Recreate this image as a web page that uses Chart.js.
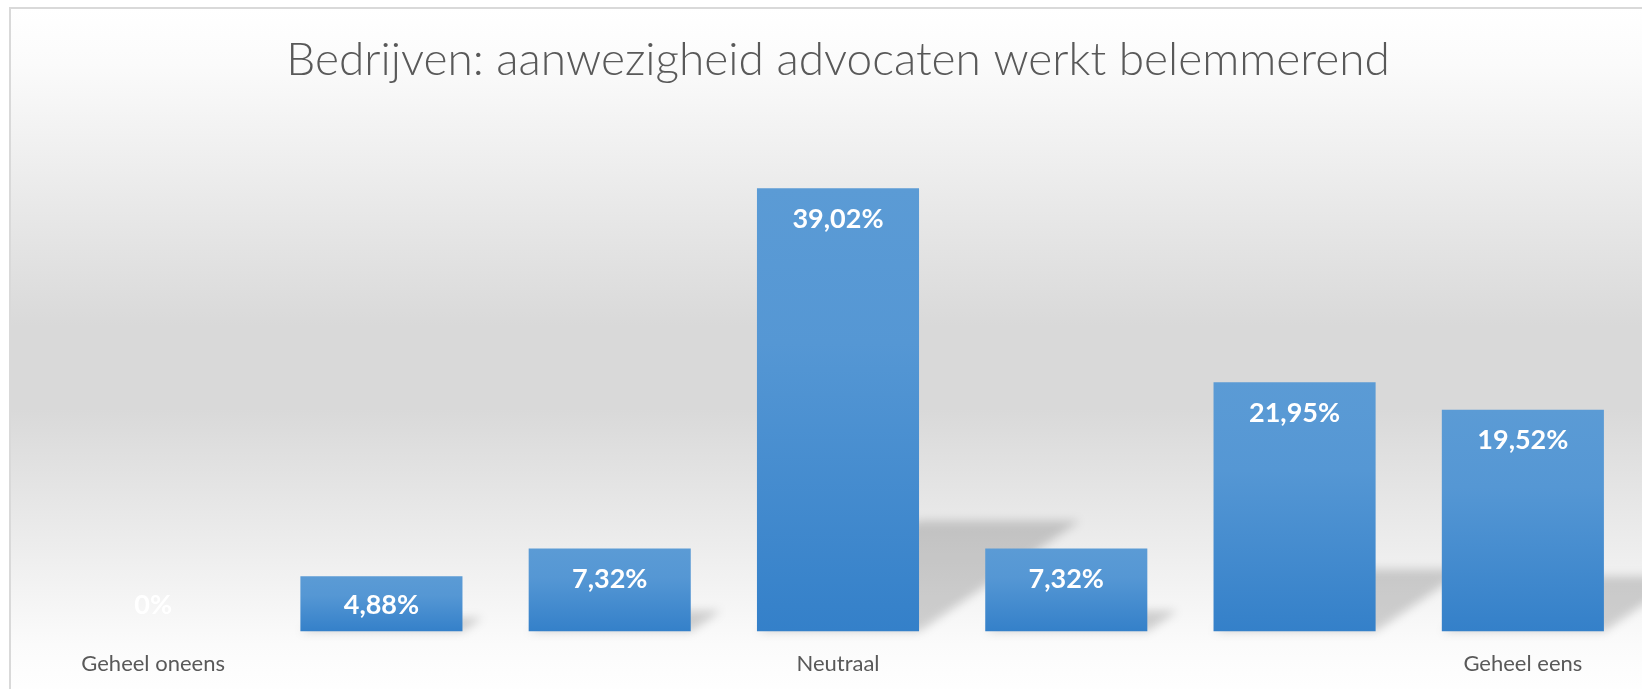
<!DOCTYPE html>
<html>
<head>
<meta charset="utf-8">
<script src="https://cdn.jsdelivr.net/npm/chart.js@4.4.1/dist/chart.umd.min.js"></script>
<style>
  html, body { margin: 0; padding: 0; background: #ffffff; }
  #wrap { width: 1642px; height: 689px; position: relative; }
</style>
</head>
<body>
<div id="wrap"><canvas id="c" width="1642" height="689"></canvas></div>
<script>
const TITLE = 'Bedrijven: aanwezigheid advocaten werkt belemmerend';
const categories = ['Geheel oneens', '', '', 'Neutraal', '', '', 'Geheel eens'];
const values = [0, 4.88, 7.32, 39.02, 7.32, 21.95, 19.52];
const yMin = 0;
const yMax = 45;

function fmt(v) {
  if (v === 0) return '0%';
  return v.toFixed(2).replace('.', ',') + '%';
}

const backgroundPlugin = {
  id: 'bgPanel',
  beforeDraw(chart) {
    const ctx = chart.ctx;
    const x0 = 10, y0 = 8, x1 = 1660, y1 = 700;
    ctx.save();
    ctx.fillStyle = '#ffffff';
    ctx.fillRect(0, 0, chart.width, chart.height);
    const g = ctx.createLinearGradient(0, y0, 0, y1);
    g.addColorStop(0, '#ffffff');
    g.addColorStop(0.08, '#fbfbfb');
    g.addColorStop(0.46, '#d9d9d9');
    g.addColorStop(0.58, '#d9d9d9');
    g.addColorStop(0.92, '#fbfbfb');
    g.addColorStop(1, '#ffffff');
    ctx.fillStyle = g;
    ctx.fillRect(x0, y0, x1 - x0, y1 - y0);
    ctx.strokeStyle = '#d9d9d9';
    ctx.lineWidth = 2;
    ctx.strokeRect(x0, y0, x1 - x0, y1 - y0);
    ctx.restore();
  }
};

const shadowPlugin = {
  id: 'barShadow',
  beforeDatasetsDraw(chart) {
    const ctx = chart.ctx;
    const meta = chart.getDatasetMeta(0);
    ctx.save();
    ctx.filter = 'blur(5px)';
    ctx.fillStyle = 'rgba(0,0,0,0.17)';
    meta.data.forEach((bar) => {
      const p = bar.getProps(['x', 'y', 'base', 'width'], true);
      const h = p.base - p.y;
      if (h <= 0) return;
      const sh = 0.25 * h;
      const dx = 1.45 * sh;
      const l = p.x - p.width / 2, r = p.x + p.width / 2;
      ctx.beginPath();
      ctx.moveTo(l, p.base);
      ctx.lineTo(r, p.base);
      ctx.lineTo(r + dx, p.base - sh);
      ctx.lineTo(l + dx, p.base - sh);
      ctx.closePath();
      ctx.fill();
    });
    ctx.restore();
  }
};

const labelPlugin = {
  id: 'barLabels',
  afterDatasetsDraw(chart) {
    const ctx = chart.ctx;
    const meta = chart.getDatasetMeta(0);
    ctx.save();
    ctx.font = 'bold 27px Lato, "Open Sans", sans-serif';
    ctx.fillStyle = '#ffffff';
    ctx.textAlign = 'center';
    ctx.textBaseline = 'middle';
    meta.data.forEach((bar, i) => {
      const p = bar.getProps(['x', 'y', 'base'], true);
      const ly = Math.min(p.y + 31, p.base - 26);
      ctx.fillText(fmt(values[i]), p.x, ly);
    });
    ctx.restore();
  }
};

function barFill(context) {
  const chart = context.chart;
  const area = chart.chartArea;
  if (!area || !chart.scales.y) return '#4a8fd2';
  const v = values[context.dataIndex];
  const top = chart.scales.y.getPixelForValue(v);
  const base = chart.scales.y.getPixelForValue(0);
  if (base - top < 1) return '#4a8fd2';
  const g = chart.ctx.createLinearGradient(0, top, 0, base);
  g.addColorStop(0, '#5b9bd5');
  g.addColorStop(0.35, '#5597d4');
  g.addColorStop(1, '#3480c9');
  return g;
}

new Chart(document.getElementById('c'), {
  type: 'bar',
  data: {
    labels: categories,
    datasets: [{
      data: values,
      backgroundColor: barFill,
      borderWidth: 0,
      categoryPercentage: 1.0,
      barPercentage: 0.71
    }]
  },
  plugins: [backgroundPlugin, shadowPlugin, labelPlugin],
  options: {
    responsive: false,
    animation: false,
    layout: { padding: { left: 39, right: 5, top: 0, bottom: -7 } },
    plugins: {
      legend: { display: false },
      tooltip: { enabled: false },
      title: {
        display: true,
        text: TITLE,
        color: '#595959',
        font: { family: 'Lato, "Open Sans", sans-serif', size: 46, weight: '300' },
        padding: { top: 33, bottom: 32 }
      }
    },
    scales: {
      x: {
        grid: { display: false, drawTicks: false },
        border: { display: false },
        ticks: {
          autoSkip: false,
          maxRotation: 0,
          padding: 19,
          color: '#595959',
          font: { family: 'Lato, "Open Sans", sans-serif', size: 22 }
        }
      },
      y: {
        display: false,
        min: yMin,
        max: yMax
      }
    }
  }
});
</script>
</body>
</html>
